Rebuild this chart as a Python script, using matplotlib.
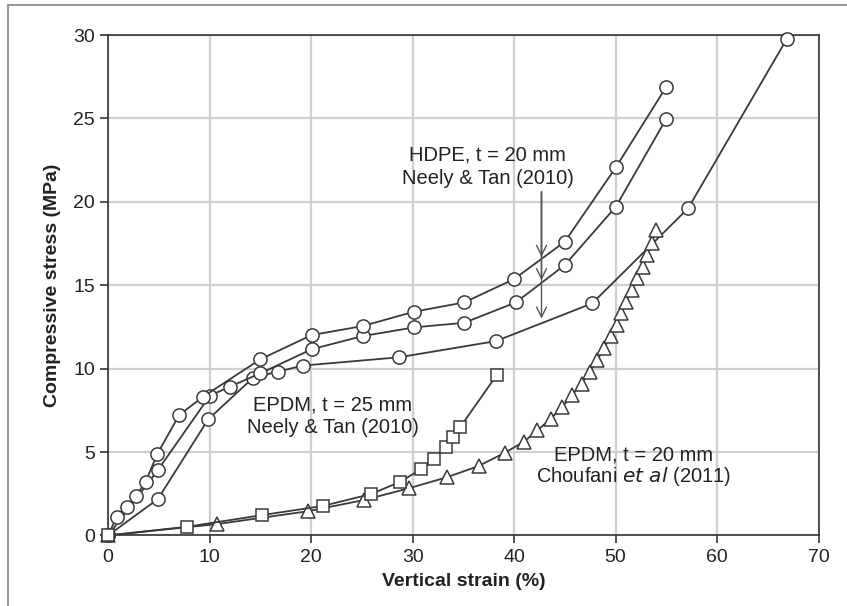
import matplotlib
matplotlib.use("Agg")
import matplotlib.pyplot as plt
from matplotlib.lines import Line2D

plt.rcParams['font.family'] = ['Liberation Sans', 'DejaVu Sans']

# HDPE, t = 20 mm (Neely & Tan 2010) - three circle curves
hdpe_a_x = [0, 0.84, 1.82, 2.74, 3.69, 4.84, 7.0, 9.37, 15.0, 20.05, 25.07, 30.13, 35.09, 40.01, 45.0, 50.03, 54.96]
hdpe_a_y = [0, 1.12, 1.72, 2.36, 3.22, 4.88, 7.22, 8.32, 10.56, 12.01, 12.55, 13.41, 13.97, 15.37, 17.61, 22.07, 26.86]
hdpe_b_x = [0, 4.9, 10.03, 12.0, 15.0, 20.05, 25.07, 30.13, 35.09, 40.18, 45.0, 50.03, 54.96]
hdpe_b_y = [0, 3.92, 8.38, 8.92, 9.72, 11.16, 11.95, 12.47, 12.75, 13.97, 16.21, 19.71, 24.94]
hdpe_c_x = [0, 4.9, 9.86, 14.3, 16.76, 19.16, 28.68, 38.21, 47.69, 57.15, 66.85]
hdpe_c_y = [0, 2.18, 6.96, 9.46, 9.82, 10.18, 10.68, 11.65, 13.91, 19.61, 29.74]

# EPDM, t = 25 mm (Neely & Tan 2010) - squares
epdm25_x = [0, 7.8, 15.2, 21.2, 25.9, 28.8, 30.8, 32.1, 33.25, 34.0, 34.7, 38.3]
epdm25_y = [0, 0.52, 1.22, 1.77, 2.48, 3.22, 3.96, 4.58, 5.32, 5.88, 6.5, 9.62]

# EPDM, t = 20 mm (Choufani et al 2011) - triangles
epdm20_x = [0, 10.75, 19.7, 25.2, 29.6, 33.35, 36.5, 39.1, 40.97, 42.3, 43.6, 44.76, 45.7,
            46.65, 47.47, 48.19, 48.85, 49.5, 50.1, 50.52, 51.05, 51.57, 52.13, 52.66,
            53.1, 53.55, 53.97]
epdm20_y = [0, 0.68, 1.45, 2.12, 2.82, 3.48, 4.16, 4.96, 5.62, 6.3, 6.99, 7.7, 8.39,
            9.1, 9.81, 10.52, 11.21, 11.95, 12.61, 13.35, 13.98, 14.71, 15.41, 16.11,
            16.81, 17.51, 18.31]

x_ticks = [0, 10, 20, 30, 40, 50, 60, 70]
y_ticks = [0, 5, 10, 15, 20, 25, 30]

# annotation arrow tips for HDPE curves
arrow_x = 42.7
arrow_start_y = 20.6
arrow_tips_y = [16.7, 15.3, 13.0]

fig = plt.figure(figsize=(8.47, 6.06), dpi=100)
ax = fig.add_axes([0.1277, 0.1165, 0.8387, 0.8257])

lc = '#3a3a3a'
common = dict(color=lc, lw=1.3, markerfacecolor='white', markeredgecolor=lc,
              markeredgewidth=1.1, zorder=3, clip_on=False)

ax.plot(hdpe_c_x, hdpe_c_y, marker='o', ms=9.5, **common)
ax.plot(hdpe_b_x, hdpe_b_y, marker='o', ms=9.5, **common)
ax.plot(hdpe_a_x, hdpe_a_y, marker='o', ms=9.5, **common)
ax.plot(epdm20_x, epdm20_y, marker='^', ms=9.5, **common)
ax.plot(epdm25_x, epdm25_y, marker='s', ms=8.5, **common)

for ty in arrow_tips_y:
    ax.annotate('', xy=(arrow_x, ty), xytext=(arrow_x, arrow_start_y),
                arrowprops=dict(arrowstyle='->', color='#555555', lw=1.0,
                                mutation_scale=18, shrinkA=0, shrinkB=0), zorder=4)

tfs = 14.5
tc = '#222222'
ax.text(37.4, 22.81, 'HDPE, t = 20 mm', ha='center', va='center', fontsize=tfs, color=tc, zorder=5)
ax.text(37.4, 21.41, 'Neely & Tan (2010)', ha='center', va='center', fontsize=tfs, color=tc, zorder=5)
ax.text(22.1, 7.82, 'EPDM, t = 25 mm', ha='center', va='center', fontsize=tfs, color=tc, zorder=5)
ax.text(22.1, 6.45, 'Neely & Tan (2010)', ha='center', va='center', fontsize=tfs, color=tc, zorder=5)
ax.text(51.8, 4.81, 'EPDM, t = 20 mm', ha='center', va='center', fontsize=tfs, color=tc, zorder=5)
ax.text(51.8, 3.51, r'Choufani $\it{et\ al}$ (2011)', ha='center', va='center',
        fontsize=tfs, color=tc, zorder=5)

ax.set_xlim(0, 70)
ax.set_ylim(0, 30)
ax.set_xticks(x_ticks)
ax.set_yticks(y_ticks)
ax.grid(True, color='#cfcfcf', lw=1.6, zorder=0)
ax.set_axisbelow(True)
ax.tick_params(direction='out', length=6, width=1.2, colors='#333333',
               labelsize=14, labelcolor='#222222')
for s in ax.spines.values():
    s.set_color('#333333')
    s.set_linewidth(1.2)

ax.set_xlabel('Vertical strain (%)', fontsize=14, fontweight='bold', color=tc, labelpad=5)
ax.set_ylabel('Compressive stress (MPa)', fontsize=14, fontweight='bold', color=tc, labelpad=9)

# figure frame (top and left)
fig.add_artist(Line2D([8/847, 8/847], [0, 1 - 5/606], color='#999999', lw=1.5))
fig.add_artist(Line2D([8/847, 1], [1 - 5/606, 1 - 5/606], color='#999999', lw=1.5))

fig.savefig('out.png', dpi=100, facecolor='white')
